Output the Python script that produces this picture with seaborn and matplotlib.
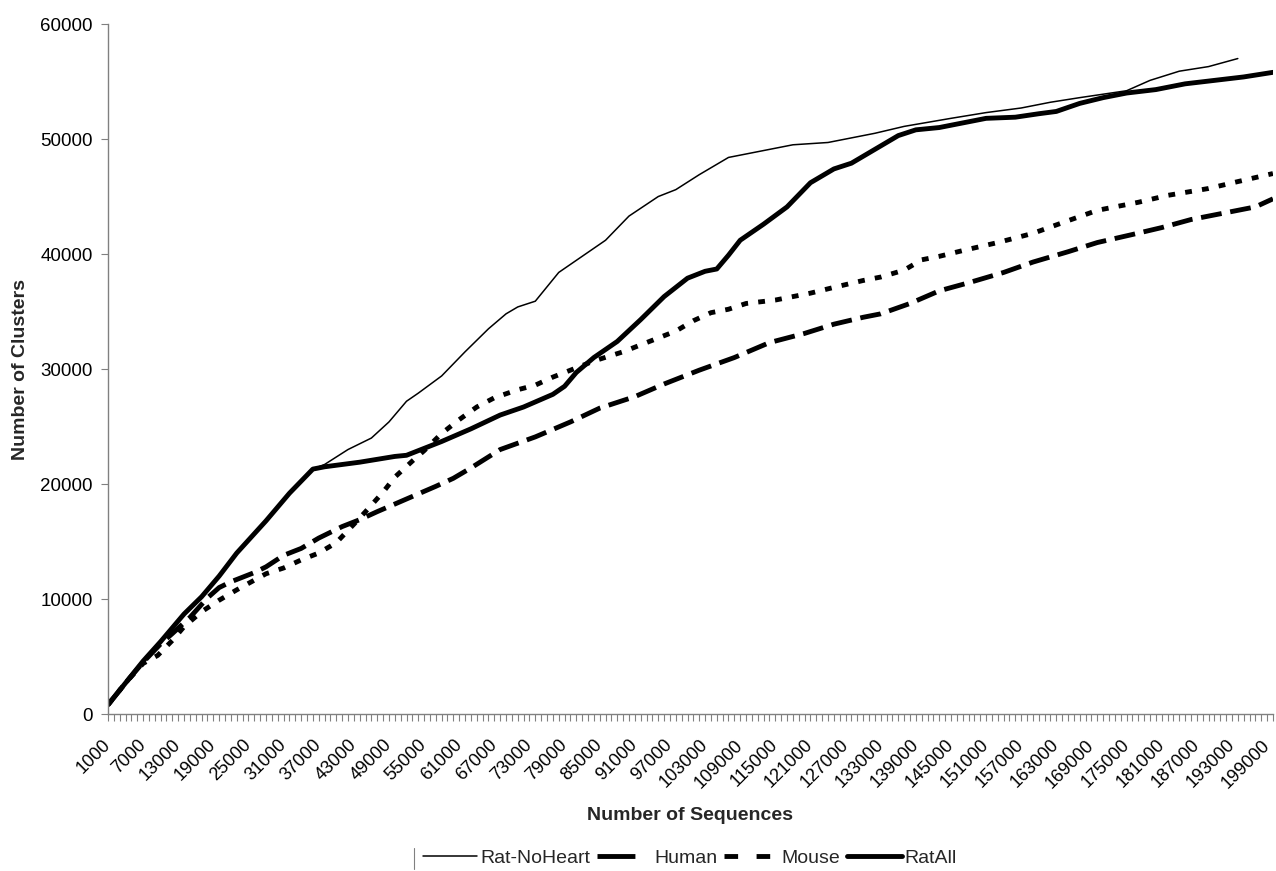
import pandas as pd
import matplotlib.pyplot as plt
import matplotlib.lines as mlines
import matplotlib.transforms as mtransforms
from matplotlib.ticker import MultipleLocator, FixedLocator
import seaborn as sns

# values
ratall_x = [1000, 4000, 7000, 10000, 14000, 17000, 20000, 23000, 28000, 32000,
            36000, 38000, 44000, 50000, 52000, 55000, 58000, 63000, 68000, 72000,
            77000, 79000, 81000, 84000, 88000, 92000, 96000, 100000, 103000, 105000,
            107000, 109000, 113000, 117000, 121000, 125000, 128000, 132000, 136000, 139000,
            143000, 147000, 151000, 156000, 160000, 163000, 167000, 171000, 175000, 180000,
            185000, 190000, 195000, 200000]
ratall_y = [800, 2700, 4600, 6300, 8700, 10200, 12000, 14000, 16800, 19200,
            21300, 21500, 21900, 22400, 22500, 23100, 23700, 24800, 26000, 26700,
            27800, 28500, 29700, 31000, 32400, 34300, 36300, 37900, 38500, 38700,
            39900, 41200, 42600, 44100, 46200, 47400, 47900, 49100, 50300, 50800,
            51000, 51400, 51800, 51900, 52200, 52400, 53100, 53600, 54000, 54300,
            54800, 55100, 55400, 55800]

noheart_x = [1000, 4000, 7000, 10000, 14000, 17000, 20000, 23000, 28000, 32000,
             36000, 38000, 42000, 46000, 49000, 52000, 54000, 58000, 62000, 66000,
             69000, 71000, 74000, 78000, 82000, 86000, 90000, 95000, 98000, 102000,
             107000, 111000, 118000, 124000, 128000, 132000, 137000, 145000, 151000, 157000,
             162000, 167000, 171000, 175000, 179000, 184000, 189000, 194000]
noheart_y = [800, 2700, 4600, 6300, 8700, 10200, 12000, 14000, 16800, 19200,
             21300, 21700, 23000, 24000, 25400, 27200, 27900, 29400, 31500, 33500,
             34800, 35400, 35900, 38400, 39800, 41200, 43300, 45000, 45600, 46900,
             48400, 48800, 49500, 49700, 50100, 50500, 51100, 51800, 52300, 52700,
             53200, 53600, 53900, 54200, 55100, 55900, 56300, 57000]

human_x = [1000, 4000, 7000, 10000, 12000, 15000, 18000, 20000, 22000, 26000,
           28000, 31000, 34000, 37000, 41000, 44000, 47000, 52000, 57000, 60000,
           63000, 68000, 74000, 80000, 85000, 91000, 96000, 102000, 108000, 114000,
           120000, 125000, 130000, 133000, 138000, 143000, 148000, 154000, 159000, 165000,
           170000, 176000, 181000, 186000, 191000, 197000, 200000]
human_y = [800, 2700, 4500, 6100, 7000, 8400, 10100, 11000, 11500, 12300,
           12800, 13800, 14400, 15300, 16300, 16900, 17600, 18700, 19800, 20500,
           21400, 23000, 24100, 25400, 26600, 27600, 28700, 29900, 31000, 32300,
           33100, 33900, 34500, 34800, 35700, 36800, 37500, 38400, 39300, 40200,
           41000, 41700, 42300, 43000, 43500, 44100, 44800]

mouse_x = [1000, 4000, 7000, 9500, 12000, 14000, 17000, 20000, 23000, 28000,
           31000, 34000, 37000, 40000, 43000, 45000, 48000, 50000, 53000, 55000,
           58000, 61000, 64000, 67000, 71000, 74000, 77000, 80000, 84000, 89000,
           92000, 95000, 98000, 101000, 104000, 107000, 110000, 115000, 118000, 121000,
           125000, 130000, 133000, 137000, 140000, 143000, 147000, 153000, 159000, 165000,
           170000, 177000, 182000, 189000, 194000, 200000]
mouse_y = [800, 2700, 4400, 5100, 6400, 7600, 8900, 9900, 10800, 12200,
           12700, 13400, 14000, 14900, 16500, 17600, 19300, 20600, 22000, 22900,
           24400, 25600, 26700, 27500, 28200, 28600, 29300, 29900, 30700, 31500,
           32100, 32700, 33300, 34200, 34900, 35200, 35700, 36000, 36300, 36600,
           37100, 37700, 38000, 38600, 39500, 39800, 40300, 41000, 41800, 42900,
           43800, 44500, 45100, 45700, 46300, 47000]

tick_labels = list(range(1000, 200000, 6000))

sns.set_style('white')
plt.rcParams['font.family'] = ['Liberation Sans', 'DejaVu Sans']

fig = plt.figure(figsize=(12.76, 8.71), dpi=100)
ax = fig.add_axes([0.0846, 0.1802, 0.913, 0.7922])

human_ls = (0, (4.3, 1.8))
mouse_ls = (0, (1.4, 2.1))

sns.lineplot(x=noheart_x, y=noheart_y, ax=ax, color='black', linewidth=1.1,
             estimator=None, errorbar=None)
sns.lineplot(x=human_x, y=human_y, ax=ax, color='black', linewidth=3.5,
             linestyle=human_ls, estimator=None, errorbar=None)
sns.lineplot(x=mouse_x, y=mouse_y, ax=ax, color='black', linewidth=3.5,
             linestyle=mouse_ls, estimator=None, errorbar=None)
sns.lineplot(x=ratall_x, y=ratall_y, ax=ax, color='black', linewidth=3.5,
             estimator=None, errorbar=None)

ax.set_xlim(1000, 200000)
ax.set_ylim(0, 60000)
ax.xaxis.set_major_locator(FixedLocator(tick_labels))
ax.set_xticklabels([str(t) for t in tick_labels], rotation=45, ha='right',
                   va='center', rotation_mode='anchor')
ax.xaxis.set_minor_locator(MultipleLocator(1000))
ax.yaxis.set_major_locator(MultipleLocator(10000))

# slanted labels sit a hair left of their ticks in the original
shift = mtransforms.ScaledTranslation(-1 / 100, 0, fig.dpi_scale_trans)
for lab in ax.get_xticklabels():
    lab.set_transform(lab.get_transform() + shift)

for side in ['top', 'right']:
    ax.spines[side].set_visible(False)
for side in ['left', 'bottom']:
    ax.spines[side].set_color('#808080')
    ax.spines[side].set_linewidth(1.0)

ax.tick_params(axis='both', which='both', direction='out', color='#808080',
               labelcolor='black')
ax.tick_params(axis='x', which='both', length=5, width=0.8, bottom=True,
               pad=15.5, labelsize=13)
ax.tick_params(axis='y', which='major', length=5, width=0.8, left=True,
               pad=6, labelsize=13.5)

ax.set_xlabel('Number of Sequences', fontsize=14, fontweight='bold')
ax.xaxis.set_label_coords(0.5, -0.1348)
ax.set_ylabel('Number of Clusters', fontsize=14, fontweight='bold', labelpad=8)

handles = [
    mlines.Line2D([], [], color='black', linewidth=1.1),
    mlines.Line2D([], [], color='black', linewidth=3.5, linestyle=(0, (7.8, 4.5))),
    mlines.Line2D([], [], color='black', linewidth=3.5, linestyle=(0, (2.8, 3.8))),
    mlines.Line2D([], [], color='black', linewidth=3.5),
]
names = ['Rat-NoHeart', 'Human', 'Mouse', 'RatAll']
fig.legend(handles, names, loc='center', bbox_to_anchor=(690 / 1276, 1 - 858 / 871),
           ncol=4, frameon=False, fontsize=14, handlelength=2.8,
           handletextpad=0.15, columnspacing=0.35)
fig.add_artist(mlines.Line2D([414 / 1276, 414 / 1276], [1 - 848 / 871, 1 - 869 / 871],
                             color='#808080', linewidth=0.8))

fig.savefig('out.png', dpi=100)
